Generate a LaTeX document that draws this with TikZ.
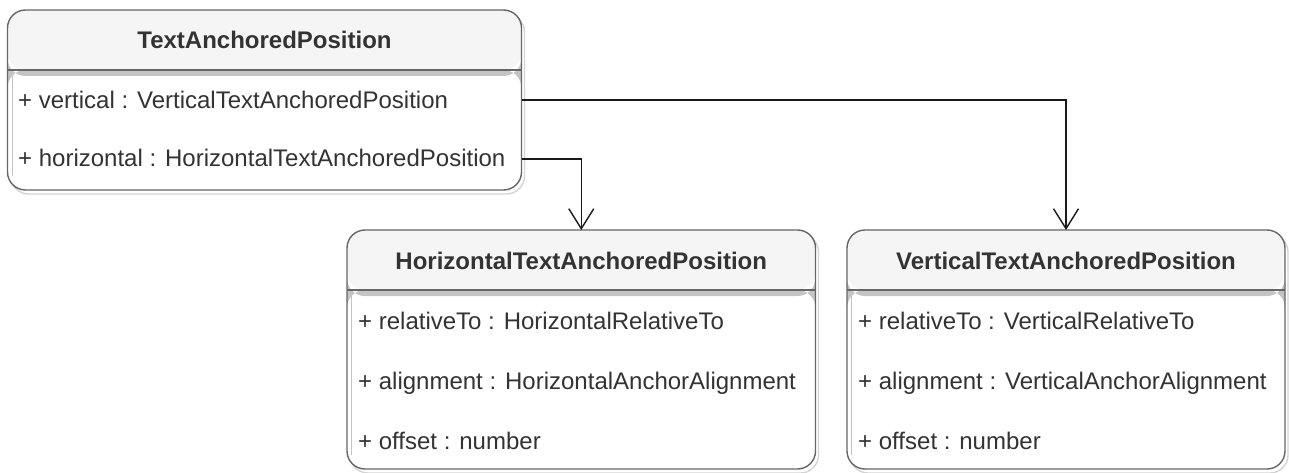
\documentclass[tikz,border=0pt]{standalone}
\usepackage{fontspec}
\setmainfont{Liberation Sans}
\usetikzlibrary{arrows.meta,calc}
\pgfdeclarelayer{background}
\pgfsetlayers{background,main}
\definecolor{strk}{HTML}{666666}
\definecolor{hdr}{HTML}{F5F5F5}
\definecolor{txt}{HTML}{333333}
\definecolor{band}{HTML}{C4C4C4}
\definecolor{shd}{HTML}{D4D4D4}
\definecolor{conn}{HTML}{1A1A1A}
\tikzset{
  classbox/.style={draw=strk, line width=1.4pt, fill=white, rounded corners=18pt,
    inner sep=0pt, outer sep=0pt,
    path picture={
      \fill[hdr] (path picture bounding box.north west) rectangle ([yshift=-60pt]path picture bounding box.north east);
      \fill[band] ([yshift=-60pt]path picture bounding box.north west) rectangle ([yshift=-66pt]path picture bounding box.north east);
      \draw[strk, line width=1.4pt] ([yshift=-60pt]path picture bounding box.north west) -- ([yshift=-60pt]path picture bounding box.north east);
      \draw[band, line width=1pt] ([xshift=4.5pt,yshift=-66pt]path picture bounding box.north west) -- ([xshift=4.5pt,yshift=14pt]path picture bounding box.south west);
    }},
  shadowline/.style={draw=shd, line width=1.4pt, rounded corners=18pt},
  title/.style={font=\fontsize{24}{28}\selectfont\bfseries, text=txt, inner sep=0pt, anchor=base},
  attr/.style={font=\fontsize{24}{28}\selectfont, text=txt, inner sep=0pt, anchor=base west},
  link/.style={draw=conn, line width=1.4pt, -{Straight Barb[length=20pt,width=25pt]}}
}
\begin{document}
\begin{tikzpicture}[x=1pt,y=-1pt]
\useasboundingbox (0,0) rectangle (1289,473);
% boxes
\node[classbox, minimum width=514pt, minimum height=180pt] (top) at (264.5,100) {};
\node[classbox, minimum width=468.5pt, minimum height=239pt] (hbox) at (581.25,349.5) {};
\node[classbox, minimum width=438pt, minimum height=239pt] (vbox) at (1066,349.5) {};
% shadows
\begin{pgfonlayer}{background}
\foreach \b in {top,hbox,vbox}{
  \draw[shadowline] ([shift={(3pt,-4pt)}]\b.south west) rectangle ([shift={(3pt,-4pt)}]\b.north east);
}
\end{pgfonlayer}
% titles
\node[title] (ttop) at (264.5,49) {TextAnchoredPosition};
\node[title] (thbox) at (581.25,269) {HorizontalTextAnchoredPosition};
\node[title] (tvbox) at (1066,269) {VerticalTextAnchoredPosition};
% attributes
\node[attr] (vattr) at (18,109) {+ vertical : VerticalTextAnchoredPosition};
\node[attr] (hattr) at (18,167) {+ horizontal : HorizontalTextAnchoredPosition};
\node[attr] (hrel) at (358,329) {+ relativeTo : HorizontalRelativeTo};
\node[attr] (hali) at (358,389) {+ alignment : HorizontalAnchorAlignment};
\node[attr] (hoff) at (358,449) {+ offset : number};
\node[attr] (vrel) at (858,329) {+ relativeTo : VerticalRelativeTo};
\node[attr] (vali) at (858,389) {+ alignment : VerticalAnchorAlignment};
\node[attr] (voff) at (858,449) {+ offset : number};
% connectors
\coordinate (c1) at (0,100);
\coordinate (c2) at (0,159);
\draw[link] (top.east |- c1) -| (vbox.north);
\draw[link] (top.east |- c2) -| (hbox.north);
\end{tikzpicture}
\end{document}
